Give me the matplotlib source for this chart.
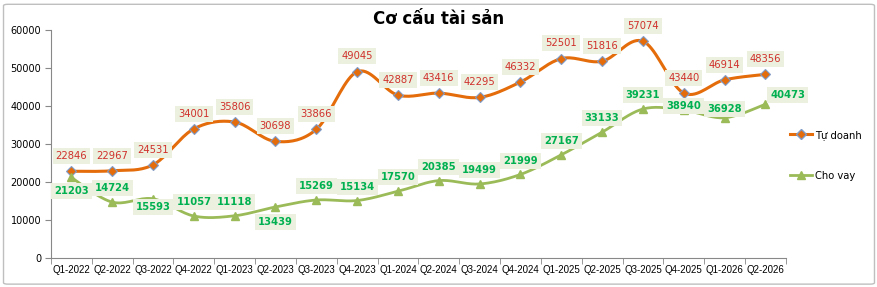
import numpy as np
import matplotlib
matplotlib.use("Agg")
import matplotlib.pyplot as plt
from matplotlib.patches import FancyBboxPatch
from matplotlib.lines import Line2D

categories = ["Q1-2022", "Q2-2022", "Q3-2022", "Q4-2022", "Q1-2023", "Q2-2023",
              "Q3-2023", "Q4-2023", "Q1-2024", "Q2-2024", "Q3-2024", "Q4-2024",
              "Q1-2025", "Q2-2025", "Q3-2025", "Q4-2025", "Q1-2026", "Q2-2026"]
tu_doanh = [22846, 22967, 24531, 34001, 35806, 30698, 33866, 49045, 42887,
            43416, 42295, 46332, 52501, 51816, 57074, 43440, 46914, 48356]
cho_vay = [21203, 14724, 15593, 11057, 11118, 13439, 15269, 15134, 17570,
           20385, 19499, 21999, 27167, 33133, 39231, 38940, 36928, 40473]
# label offsets in points (dx, dy)
tu_offsets = [(0, 11)] * 18
cv_offsets = [(0, 10)] * 18
cv_offsets[0] = (0, -10)
cv_offsets[2] = (0, -6)
cv_offsets[5] = (0, -11)
cv_offsets[15] = (0, 3)
cv_offsets[16] = (0, 6)
cv_offsets[17] = (16, 7)

title = "Cơ cấu tài sản"
ORANGE = "#E46C0A"
GREEN = "#9BBB59"
RED_TXT = "#D0302C"
GREEN_TXT = "#00B050"
BOX = "#EBF1DE"

plt.rcParams['font.family'] = ['DejaVu Sans']


def smooth(xs, ys, n=20):
    xs = np.asarray(xs, float); ys = np.asarray(ys, float)
    P = np.column_stack([xs, ys])
    P = np.vstack([P[0], P, P[-1]])
    out = []
    for i in range(1, len(P) - 2):
        p0, p1, p2, p3 = P[i - 1], P[i], P[i + 1], P[i + 2]
        c1 = p1 + (p2 - p0) / 6.0
        c2 = p2 - (p3 - p1) / 6.0
        t = np.linspace(0, 1, n)[:, None]
        seg = ((1 - t) ** 3) * p1 + 3 * ((1 - t) ** 2) * t * c1 + 3 * (1 - t) * t ** 2 * c2 + t ** 3 * p2
        out.append(seg if i == 1 else seg[1:])
    s = np.vstack(out)
    return s[:, 0], s[:, 1]


fig = plt.figure(figsize=(8.78, 2.87), dpi=100)
border = FancyBboxPatch((0.004, 0.01), 0.992, 0.975, boxstyle="round,pad=0,rounding_size=0.005",
                        transform=fig.transFigure, fill=False, edgecolor="#BFBFBF", linewidth=1.0)
fig.patches.append(border)

ax = fig.add_axes([0.058, 0.101, 0.837, 0.794])
x = np.arange(len(categories))

sx, sy = smooth(x, tu_doanh)
ax.plot(sx, sy, color=ORANGE, lw=2.2, zorder=3)
ax.plot(x, tu_doanh, ls="none", marker="D", ms=5.5, mfc=ORANGE, mec="#7F9BC8", mew=0.8, zorder=4)
sx, sy = smooth(x, cho_vay)
ax.plot(sx, sy, color=GREEN, lw=2.0, zorder=3)
ax.plot(x, cho_vay, ls="none", marker="^", ms=6, mfc=GREEN, mec=GREEN, zorder=4)

for xi, v, (dx, dy) in zip(x, tu_doanh, tu_offsets):
    ax.annotate(str(v), (xi, v), xytext=(dx, dy), textcoords="offset points",
                ha="center", va="center", fontsize=7.2, color=RED_TXT, zorder=5,
                bbox=dict(boxstyle="square,pad=0.3", fc=BOX, ec="none"))
for xi, v, (dx, dy) in zip(x, cho_vay, cv_offsets):
    ax.annotate(str(v), (xi, v), xytext=(dx, dy), textcoords="offset points",
                ha="center", va="center", fontsize=7.2, color=GREEN_TXT, fontweight="bold", zorder=5,
                bbox=dict(boxstyle="square,pad=0.3", fc=BOX, ec="none"))

ax.set_xlim(-0.5, len(categories) - 0.5)
ax.set_ylim(0, 60000)
ax.set_yticks(np.arange(0, 60001, 10000))
ax.set_xticks(x)
ax.set_xticklabels(categories, fontsize=7, family=["Liberation Sans", "DejaVu Sans"])
ax.set_xticks(np.arange(-0.5, len(categories), 1), minor=True)
ax.tick_params(axis="x", which="major", length=0, pad=5)
ax.tick_params(axis="x", which="minor", length=4, color="#888888")
ax.tick_params(axis="y", labelsize=7, length=4, color="#888888", pad=3)
for s in ["top", "right"]:
    ax.spines[s].set_visible(False)
for s in ["left", "bottom"]:
    ax.spines[s].set_color("#888888")

fig.text(0.5, 0.935, title, ha="center", va="center", fontsize=12, fontweight="bold")

# legend
h1 = Line2D([], [], color=ORANGE, lw=2.2, marker="D", ms=5, mfc=ORANGE, mec="#7F9BC8")
h2 = Line2D([], [], color=GREEN, lw=2.0, marker="^", ms=6, mfc=GREEN, mec=GREEN)
fig.legend([h1], ["Tự doanh"], loc="center left", bbox_to_anchor=(0.89, 0.53), frameon=False,
           fontsize=7.2, handlelength=2.2, handletextpad=0.3)
fig.legend([h2], ["Cho vay"], loc="center left", bbox_to_anchor=(0.89, 0.387), frameon=False,
           fontsize=7.2, handlelength=2.2, handletextpad=0.3)

fig.savefig("out.png", dpi=100)
